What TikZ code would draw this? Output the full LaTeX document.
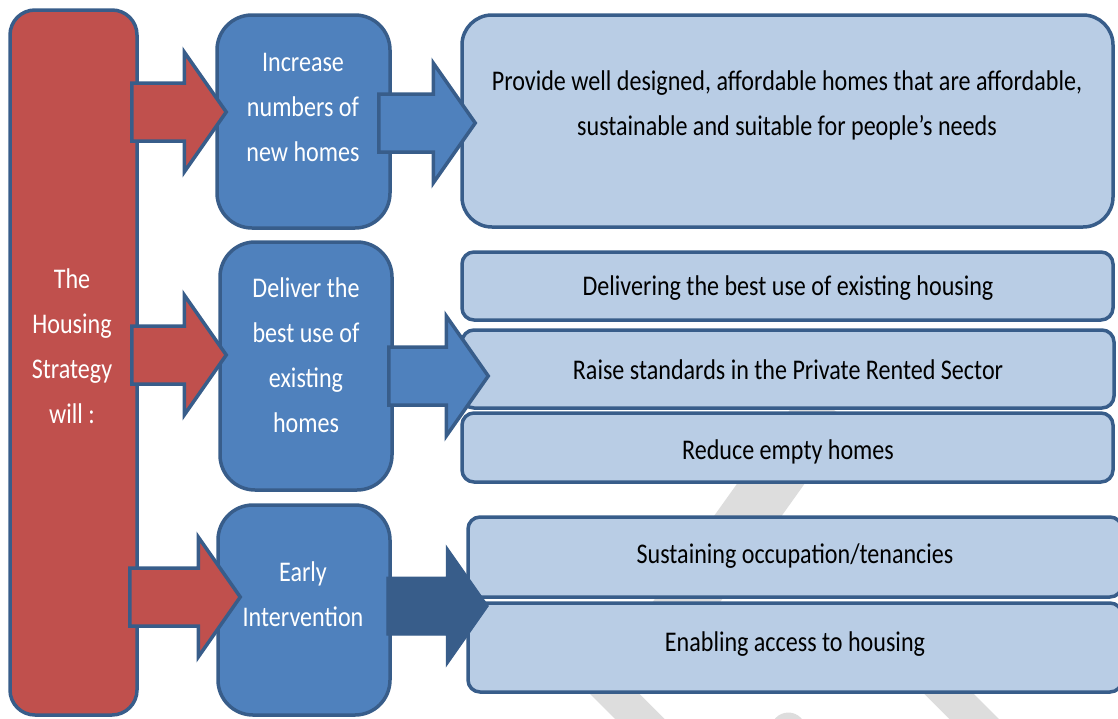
\documentclass[tikz,border=0pt]{standalone}
\usepackage{fontspec}
\setmainfont{Carlito}[FakeStretch=0.845]
\usetikzlibrary{calc}
\definecolor{stratred}{HTML}{C0504D}
\definecolor{stratblue}{HTML}{4F81BD}
\definecolor{stratlight}{HTML}{B9CDE5}
\definecolor{stratedge}{HTML}{385D8A}
\definecolor{markgrey}{HTML}{DDDDDD}

\tikzset{
  box/.style={draw=stratedge, line width=3.5pt, rounded corners=#1, inner sep=0pt},
  box/.default=12pt,
  redbox/.style={box=25pt, fill=stratred},
  bluebox/.style={box=35pt, fill=stratblue},
  lightbox/.style={box=#1, fill=stratlight},
  lightbox/.default=12pt,
  wtext/.style={text=white, font=\fontsize{28.5}{45}\selectfont, align=center},
  btext/.style={text=black, font=\fontsize{28.5}{45}\selectfont, align=center},
  redarrow/.style={draw=stratedge, line width=3.5pt, fill=stratred},
  bluearrow/.style={draw=stratedge, line width=3.5pt, fill=stratblue},
  darkarrow/.style={draw=stratedge, line width=1pt, fill=stratedge},
  watermark/.style={draw=markgrey, line width=#1},
}

% block arrow: style, start of shaft, tip
\newcommand\blockarrow[3]{%
  \path[#1] let \p1=#2, \p2=#3 in
    (\x1,\y1+29pt) -- (\x2-42pt,\y2+29pt) -- (\x2-42pt,\y2+60pt) -- (\x2,\y2)
    -- (\x2-42pt,\y2-60pt) -- (\x2-42pt,\y2-29pt) -- (\x1,\y1-29pt) -- cycle;}

\begin{document}
\begin{tikzpicture}[x=1pt,y=-1pt]
  \useasboundingbox (0,0) rectangle (1118,718);

  % grey watermark behind
  \begin{scope}
    \clip (0,0) rectangle (1118,718);
    \draw[watermark=55pt] (827,405) -- (670,625);
    \draw[watermark=35pt] (577,656) -- (680,759);
    \draw[watermark=35pt, line cap=round] (788,730) -- (788,760);
    \draw[watermark=35pt] (911,656) -- (1011,756);
  \end{scope}

  % boxes
  \node[redbox, minimum width=127pt, minimum height=705pt] (hs) at (73.5,362.5) {};
  \node[bluebox, minimum width=173pt, minimum height=213pt] (inc) at (303.5,121.5) {};
  \node[bluebox, minimum width=172pt, minimum height=248pt] (del) at (306,366) {};
  \node[bluebox, minimum width=172pt, minimum height=210pt] (early) at (304,610) {};
  \node[lightbox=30pt, minimum width=651pt, minimum height=212pt] (prov) at (787.5,121) {};
  \node[lightbox, minimum width=651pt, minimum height=68pt] (best) at (787.5,286) {};
  \node[lightbox, minimum width=652pt, minimum height=78pt] (raise) at (788,369) {};
  \node[lightbox, minimum width=651pt, minimum height=69pt] (empty) at (787.5,447.5) {};
  \node[lightbox, minimum width=654pt, minimum height=80pt] (sust) at (795,557) {};
  \node[lightbox, minimum width=654pt, minimum height=89pt] (enab) at (795,647.5) {};

  % texts
  \node[wtext] (hsT) at (72,346) {The\\Housing\\Strategy\\will :};
  \node[wtext] (incT) at (303,107) {Increase\\numbers of\\new homes};
  \node[wtext] (delT) at (306,355) {Deliver the\\best use of\\existing\\homes};
  \node[wtext] (earlyT) at (303,594) {Early\\Intervention};
  \node[btext] (provT) at (787,105) {Provide well designed, affordable homes that are affordable,\\sustainable and suitable for people’s needs};
  \node[btext] (bestT) at (788,288) {Delivering the best use of existing housing};
  \node[btext] (raiseT) at (788,370) {Raise standards in the Private Rented Sector};
  \node[btext] (emptyT) at (788,452) {Reduce empty homes};
  \node[btext] (sustT) at (795,556) {Sustaining occupation/tenancies};
  \node[btext] (enabT) at (795,644) {Enabling access to housing};

  % arrows
  \blockarrow{redarrow}{($(hs.east |- 0,112)+(-7,0)$)}{($(inc.west |- 0,112)+(11,0)$)}
  \blockarrow{redarrow}{($(hs.east |- 0,355)+(-7,0)$)}{($(del.west |- 0,355)+(8,0)$)}
  \blockarrow{redarrow}{($(hs.east |- 0,597)+(-9,0)$)}{($(early.west |- 0,597)+(24,0)$)}
  \blockarrow{bluearrow}{($(inc.east |- 0,123)+(-13,0)$)}{($(prov.west |- 0,123)+(15,0)$)}
  \blockarrow{bluearrow}{($(del.east |- 0,376)+(-5,0)$)}{($(raise.west |- 0,376)+(28,0)$)}
  \blockarrow{darkarrow}{($(early.east |- 0,606)+(-5,0)$)}{($(sust.west |- 0,606)+(22,0)$)}
\end{tikzpicture}
\end{document}
